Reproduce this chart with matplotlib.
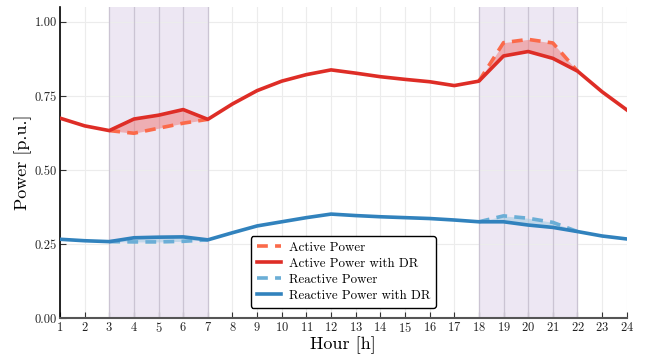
import matplotlib
matplotlib.use("Agg")
import matplotlib.pyplot as plt
import numpy as np

plt.rcParams['font.family'] = 'serif'
plt.rcParams['font.serif'] = ['cmr10', 'DejaVu Serif']
plt.rcParams['mathtext.fontset'] = 'cm'
plt.rcParams['axes.unicode_minus'] = False
plt.rcParams['axes.formatter.use_mathtext'] = True

hours = list(range(1, 25))
active_dr = [0.675, 0.649, 0.633, 0.672, 0.685, 0.704, 0.671, 0.723, 0.768, 0.800,
             0.822, 0.838, 0.827, 0.815, 0.806, 0.798, 0.785, 0.800, 0.885, 0.900,
             0.877, 0.834, 0.764, 0.703]
active = [0.675, 0.649, 0.633, 0.624, 0.641, 0.658, 0.671, 0.723, 0.768, 0.800,
          0.822, 0.838, 0.827, 0.815, 0.806, 0.798, 0.785, 0.800, 0.930, 0.941,
          0.929, 0.834, 0.764, 0.703]
reactive_dr = [0.266, 0.261, 0.258, 0.271, 0.273, 0.274, 0.264, 0.288, 0.311, 0.325,
               0.339, 0.351, 0.346, 0.342, 0.339, 0.336, 0.331, 0.325, 0.325, 0.314,
               0.306, 0.292, 0.277, 0.267]
reactive = [0.266, 0.261, 0.258, 0.257, 0.257, 0.259, 0.264, 0.288, 0.311, 0.325,
            0.339, 0.351, 0.346, 0.342, 0.339, 0.336, 0.331, 0.325, 0.345, 0.337,
            0.323, 0.292, 0.277, 0.267]
dr_windows = [(3, 7), (18, 22)]
yticks = [0.0, 0.25, 0.5, 0.75, 1.0]

fig = plt.figure(figsize=(6.47, 3.56), dpi=100)
ax = fig.add_axes([0.0927, 0.1067, 0.876, 0.8733])

h = np.array(hours)
a = np.array(active); adr = np.array(active_dr)
r = np.array(reactive); rdr = np.array(reactive_dr)

ax.grid(True, color='#ececec', lw=0.8, zorder=0.2)
ax.set_axisbelow(True)

for s, e in dr_windows:
    ax.axvspan(s, e, facecolor='#ede7f3', zorder=0.3, lw=0)
    for xv in range(s, e + 1):
        ax.axvline(xv, color='#cbc4d3', lw=0.9, zorder=0.6)
    m = (h >= s) & (h <= e)
    ax.fill_between(h[m], a[m], adr[m], color='#f08080', alpha=0.55, lw=0, zorder=1)
    ax.fill_between(h[m], r[m], rdr[m], color='#9ecae1', alpha=0.55, lw=0, zorder=1)

for s, e in dr_windows:
    m = (h >= s) & (h <= e)
    ax.plot(h[m], a[m], color='#fb6a4a', lw=2.6, ls=(0, (3, 2)), zorder=2)
    ax.plot(h[m], r[m], color='#6baed6', lw=2.6, ls=(0, (3, 2)), zorder=2)
ax.plot([], [], color='#fb6a4a', lw=2.6, ls=(0, (3, 2)), label='Active Power')
ax.plot(h, adr, color='#de2d26', lw=2.6, zorder=3, label='Active Power with DR')
ax.plot([], [], color='#6baed6', lw=2.6, ls=(0, (3, 2)), label='Reactive Power')
ax.plot(h, rdr, color='#3182bd', lw=2.6, zorder=3, label='Reactive Power with DR')

ax.set_xlim(1, 24)
ax.set_ylim(0, 1.05)
ax.set_xticks(hours)
ax.set_yticks(yticks)
ax.set_yticklabels([f"{v:.2f}" for v in yticks])
ax.tick_params(direction='in', labelsize=9, length=4, width=0.8, colors='#333333', pad=2)
ax.tick_params(axis='both', labelcolor='#222222')
for sp in ['top', 'right']:
    ax.spines[sp].set_visible(False)
ax.spines['left'].set_color('black')
ax.spines['left'].set_linewidth(1.2)
ax.spines['bottom'].set_color('#555555')
ax.spines['bottom'].set_linewidth(1.5)

ax.set_xlabel('Hour [h]', fontsize=13, labelpad=1)
ax.set_ylabel('Power [p.u.]', fontsize=13, labelpad=2)

leg = ax.legend(loc='lower center', bbox_to_anchor=(0.5, 0.012), fontsize=9.3,
                frameon=True, fancybox=True, framealpha=1, handlelength=1.9,
                handletextpad=0.6, borderpad=0.45, labelspacing=0.3)
leg.get_frame().set_edgecolor('black')
leg.get_frame().set_linewidth(1.0)
leg.set_zorder(5)

fig.savefig('out.png', dpi=100)
